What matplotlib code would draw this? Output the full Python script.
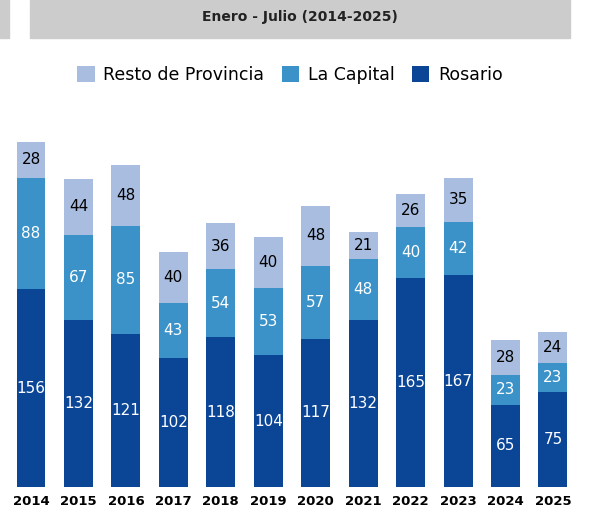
import matplotlib.pyplot as plt
import numpy as np
from matplotlib.patches import Rectangle

years = ['2014','2015','2016','2017','2018','2019','2020','2021','2022','2023','2024','2025']
rosario = [156,132,121,102,118,104,117,132,165,167,65,75]
capital = [88,67,85,43,54,53,57,48,40,42,23,23]
resto = [28,44,48,40,36,40,48,21,26,35,28,24]

W, H = 597, 532
fig = plt.figure(figsize=(W/100, H/100), dpi=100)
# header
fig.patches.append(Rectangle((30/W, 1-38/H), 540/W, 38/H, transform=fig.transFigure, color='#cccccc', zorder=0))
fig.patches.append(Rectangle((0, 1-38/H), 9/W, 38/H, transform=fig.transFigure, color='#cccccc', zorder=0))
fig.text(300/W, 1-17/H, 'Enero - Julio (2014-2025)', ha='center', va='center', fontsize=10, fontweight='bold', color='#222222')

ax = fig.add_axes([0, 1-487/H, 1, 387/H])
x = np.arange(len(years))
w = 0.61
cols = ['#0a4596', '#3a92c8', '#a8bde0']
b1 = ax.bar(x, rosario, w, color=cols[0], label='Rosario')
b2 = ax.bar(x, capital, w, bottom=rosario, color=cols[1], label='La Capital')
bot = np.array(rosario)+np.array(capital)
b3 = ax.bar(x, resto, w, bottom=bot, color=cols[2], label='Resto de Provincia')
for i in range(len(years)):
    ax.text(x[i], rosario[i]/2, str(rosario[i]), ha='center', va='center', color='white', fontsize=11)
    ax.text(x[i], rosario[i]+capital[i]/2, str(capital[i]), ha='center', va='center', color='white', fontsize=11)
    ax.text(x[i], bot[i]+resto[i]/2, str(resto[i]), ha='center', va='center', color='black', fontsize=11)
ax.set_xlim(-31/47.45, (597-31)/47.45)
ax.set_ylim(0, 387/1.268)
for s in ax.spines.values():
    s.set_visible(False)
ax.set_yticks([])
ax.set_xticks(x)
ax.set_xticklabels(years, fontweight='bold', fontsize=9.5)
ax.tick_params(axis='x', length=0, pad=6)
h = [b3, b2, b1]
fig.legend(h, [b.get_label() for b in h], loc='center', bbox_to_anchor=(290/W, 1-75/H), ncol=3,
           frameon=False, fontsize=12.5, handlelength=1, handleheight=1, columnspacing=1.0, handletextpad=0.5)
fig.savefig('out.png', dpi=100)
